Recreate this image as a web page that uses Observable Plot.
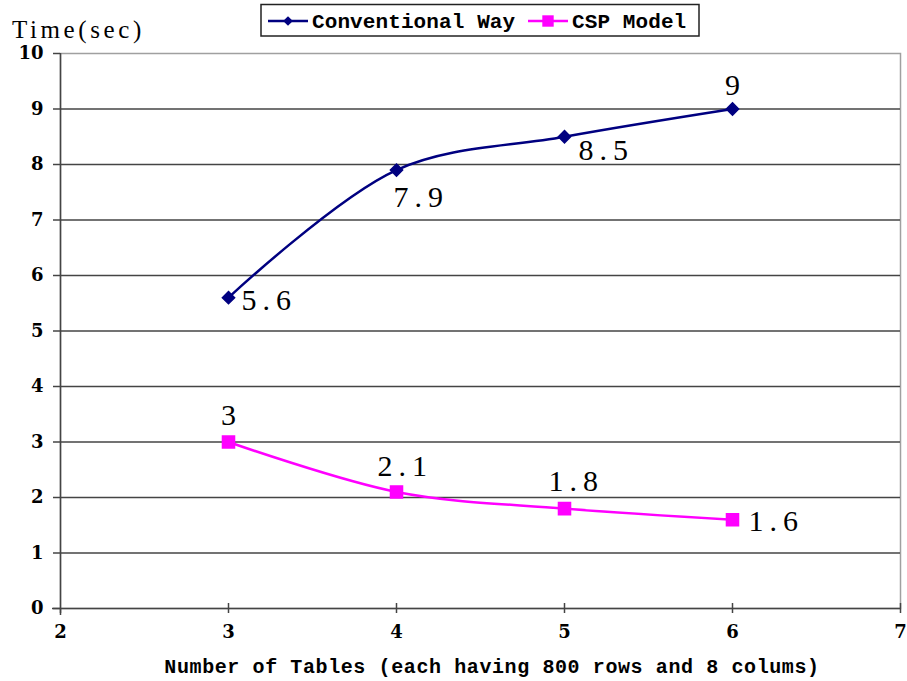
<!DOCTYPE html>
<html>
<head>
<meta charset="utf-8">
<script src="https://cdn.jsdelivr.net/npm/d3@7"></script>
<script src="https://cdn.jsdelivr.net/npm/@observablehq/plot@0.6"></script>
<style>
  html, body { margin: 0; padding: 0; background: #fff; }
  #wrap { position: relative; width: 907px; height: 681px; }
  #overlay { position: absolute; left: 0; top: 0; pointer-events: none; }
  #wrap g.tick-label text {
    font-family: "DejaVu Serif"; font-weight: bold; font-size: 18px; fill: #000;
  }
  #wrap g.value-label text {
    font-family: "Liberation Serif"; font-size: 30px; letter-spacing: 6px; fill: #000;
  }
</style>
</head>
<body>
<div id="wrap"></div>
<script>
// Timing measurements: number of tables vs. time in seconds
const tables = [3, 4, 5, 6];
const conventionalWay = [5.6, 7.9, 8.5, 9];
const cspModel = [3, 2.1, 1.8, 1.6];

const seriesNames = ["Conventional Way", "CSP Model"];
const xTicks = [2, 3, 4, 5, 6, 7];
const yTicks = [0, 1, 2, 3, 4, 5, 6, 7, 8, 9, 10];
const gridValues = [1, 2, 3, 4, 5, 6, 7, 8, 9];
const yTitle = "Time(sec)";
const xTitle = "Number of Tables (each having 800 rows and 8 colums)";

const NAVY = "#000080";
const MAGENTA = "#ff00ff";
const AXIS = "#444";

// Where each value label sits relative to its point: [dx, dy, anchor]
const convLabelPlace = [[13, 3, "start"], [-3, 27, "start"], [14, 14, "start"], [3, -24, "middle"]];
const cspLabelPlace = [[3, -27, "middle"], [-19, -26, "start"], [-16, -27, "start"], [16, 2, "start"]];

function valueLabels(values, places) {
  return values.map((v, i) => Plot.text([i], {
    x: j => tables[j],
    y: j => values[j],
    text: j => String(values[j]),
    dx: places[i][0],
    dy: places[i][1],
    textAnchor: places[i][2],
    className: "value-label"
  }));
}

const chart = Plot.plot({
  width: 907,
  height: 681,
  marginLeft: 60,
  marginRight: 7,
  marginTop: 53,
  marginBottom: 73,
  style: {background: "#fff", overflow: "visible"},
  x: {domain: [2, 7]},
  y: {domain: [0, 10]},
  marks: [
    Plot.frame({stroke: "#a0a0a0", strokeWidth: 1.5}),
    Plot.ruleY(gridValues, {stroke: AXIS, strokeWidth: 1.5}),
    // axis lines
    Plot.ruleY([0], {stroke: AXIS, strokeWidth: 1.5, insetLeft: -8}),
    Plot.ruleX([2], {stroke: AXIS, strokeWidth: 1.5, insetBottom: -7}),
    // ticks (x ticks cross the axis line); labels drawn below as text marks
    Plot.axisY({ticks: yTicks, tickSize: 7, tickFormat: () => "", label: null, stroke: AXIS, strokeWidth: 1.5}),
    Plot.axisX({ticks: xTicks, tickSize: 5, tickFormat: () => "", label: null, stroke: AXIS, strokeWidth: 1.5}),
    Plot.ruleX(xTicks.slice(1), {y1: 0, y2: 0, insetTop: -5, stroke: AXIS, strokeWidth: 1.5}),
    // tick labels
    Plot.text(yTicks, {y: d => d, text: d => String(d), frameAnchor: "left", dx: -17, textAnchor: "end", className: "tick-label"}),
    Plot.text(xTicks, {x: d => d, text: d => String(d), frameAnchor: "bottom", dy: 29, className: "tick-label"}),

    Plot.line(tables, {x: d => d, y: (d, i) => conventionalWay[i], curve: "catmull-rom", stroke: NAVY, strokeWidth: 2.5}),
    Plot.line(tables, {x: d => d, y: (d, i) => cspModel[i], curve: "catmull-rom", stroke: MAGENTA, strokeWidth: 2.5}),
    Plot.dot(tables, {x: d => d, y: (d, i) => conventionalWay[i], symbol: "diamond2", r: 5.5, fill: NAVY, stroke: NAVY}),
    Plot.dot(tables, {x: d => d, y: (d, i) => cspModel[i], symbol: "square", r: 6.8, fill: MAGENTA, stroke: MAGENTA}),

    ...valueLabels(conventionalWay, convLabelPlace),
    ...valueLabels(cspModel, cspLabelPlace)
  ]
});

const wrap = document.getElementById("wrap");
wrap.appendChild(chart);

// Titles and legend drawn over the chart
const ns = "http://www.w3.org/2000/svg";
const ov = d3.select(wrap).append(() => document.createElementNS(ns, "svg"))
  .attr("id", "overlay").attr("width", 907).attr("height", 681);

ov.append("text").attr("x", 12).attr("y", 38)
  .attr("font-family", "Liberation Serif").attr("font-size", 25)
  .attr("letter-spacing", "3.6px").text(yTitle);

ov.append("text").attr("x", 492).attr("y", 673).attr("text-anchor", "middle")
  .attr("font-family", "Liberation Mono").attr("font-weight", "bold").attr("font-size", 20)
  .attr("letter-spacing", "0.6px").text(xTitle);

const lg = ov.append("g");
lg.append("rect").attr("x", 261).attr("y", 4.5).attr("width", 438).attr("height", 31.5)
  .attr("fill", "#fff").attr("stroke", "#222").attr("stroke-width", 1.5);

const legendItems = [
  {name: seriesNames[0], color: NAVY, x0: 268, symbol: d3.symbolDiamond2, size: 60, tx: 312},
  {name: seriesNames[1], color: MAGENTA, x0: 528, symbol: d3.symbolSquare, size: 130, tx: 572}
];
for (const it of legendItems) {
  lg.append("line").attr("x1", it.x0).attr("x2", it.x0 + 40).attr("y1", 21).attr("y2", 21)
    .attr("stroke", it.color).attr("stroke-width", 2.5);
  lg.append("path").attr("d", d3.symbol(it.symbol, it.size)())
    .attr("transform", `translate(${it.x0 + 20},21)`).attr("fill", it.color);
  lg.append("text").attr("x", it.tx).attr("y", 28)
    .attr("font-family", "Liberation Mono").attr("font-weight", "bold").attr("font-size", 21)
    .attr("letter-spacing", "0.1px").text(it.name);
}
</script>
</body>
</html>
